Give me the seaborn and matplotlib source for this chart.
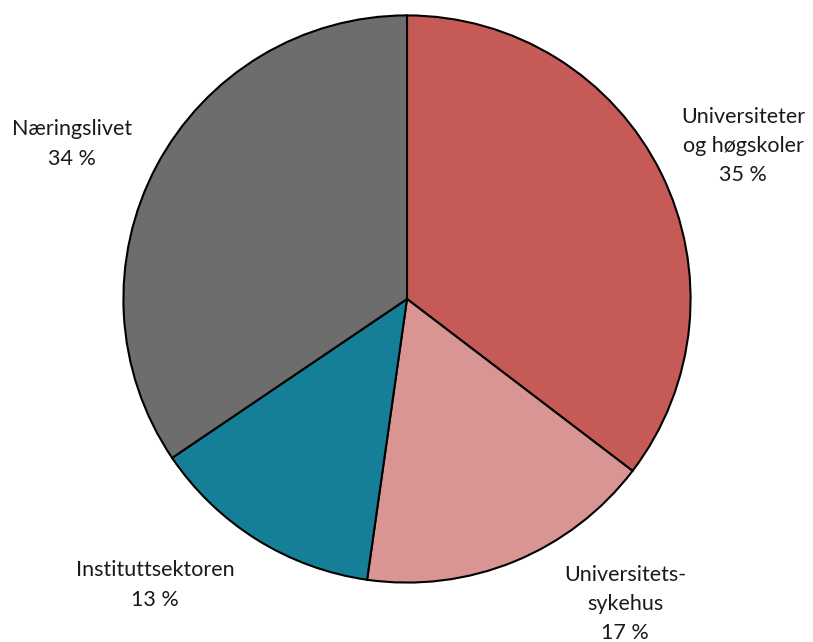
import matplotlib
matplotlib.use("Agg")
import matplotlib.pyplot as plt
import seaborn as sns

sectors = ["Universiteter\nog høgskoler", "Universitets-\nsykehus", "Instituttsektoren", "Næringslivet"]
values = [35.4, 16.9, 13.3, 34.5]
pct_labels = ["35 %", "17 %", "13 %", "34 %"]
colors = ["#C55A57", "#D99594", "#167F98", "#6D6D6D"]

sns.set_theme(style="white")
plt.rcParams['font.family'] = ['Lato', 'DejaVu Sans']

W, H = 813, 642
fig = plt.figure(figsize=(W / 100, H / 100), dpi=100)
ax = fig.add_axes([122 / W, (H - 584) / H, 570 / W, 570 / H])
ax.pie(values, colors=colors, startangle=90, counterclock=False,
       wedgeprops=dict(edgecolor="black", linewidth=1.5), radius=1)
ax.set_xlim(-1.005, 1.005)
ax.set_ylim(-1.005, 1.005)
ax.set_aspect("equal")
ax.axis("off")

# label anchor positions (pixel centres of text blocks)
label_pos = [(743, 146), (625, 604), (155, 585), (72, 144)]
for name, pct, (px, py) in zip(sectors, pct_labels, label_pos):
    fig.text(px / W, 1 - py / H, f"{name}\n{pct}", ha="center", va="center",
             fontsize=15.5, color="#1a1a1a", linespacing=1.58)

fig.savefig("out.png", dpi=100)
